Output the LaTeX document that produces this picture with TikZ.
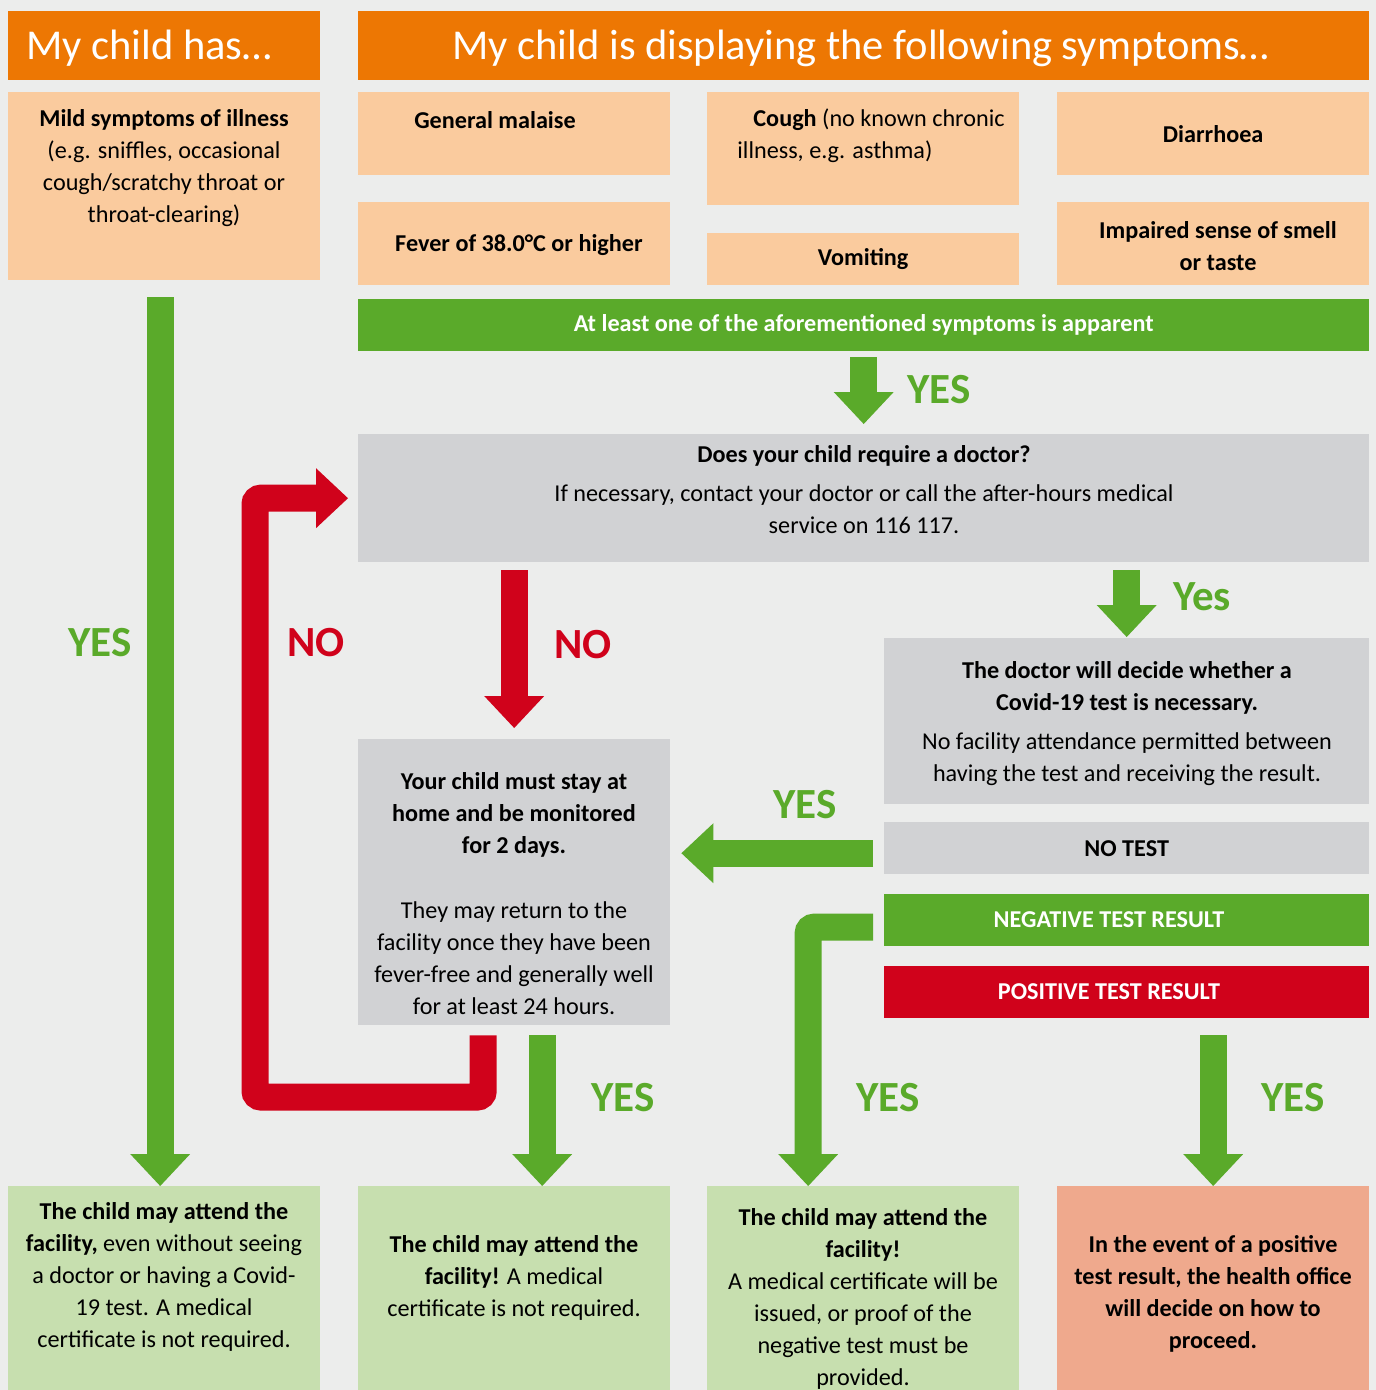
\documentclass[tikz,border=0pt]{standalone}
\usepackage{fontspec}
\setmainfont{Carlito}
\usetikzlibrary{arrows.meta, positioning}

\definecolor{bgcol}{RGB}{236,237,236}
\definecolor{headorange}{RGB}{237,119,3}
\definecolor{peach}{RGB}{250,203,158}
\definecolor{okgreen}{RGB}{90,170,42}
\definecolor{palegreen}{RGB}{199,223,175}
\definecolor{boxgray}{RGB}{209,210,212}
\definecolor{alertred}{RGB}{208,2,27}
\definecolor{salmon}{RGB}{239,169,141}

\newcommand{\bodyfont}{\fontsize{24.2}{32}\selectfont}

\begin{document}
\begin{tikzpicture}
        [x=1pt, y=-1pt,
        every node/.style={font=\bodyfont, align=center, inner sep=0pt},
        field/.style={anchor=north west, minimum width=#1},
        field/.default=312pt,
        header/.style={fill=headorange},
        headtext/.style={text=white, font=\fontsize{42.5}{48}\selectfont},
        symptom/.style={fill=peach},
        query/.style={fill=boxgray},
        outcome/.style={fill=palegreen},
        strong/.style={font=\bodyfont\bfseries},
        answer/.style={text=okgreen, font=\fontsize{43}{48}\selectfont\bfseries},
        denial/.style={text=alertred, font=\fontsize{43}{48}\selectfont\bfseries},
        yesarrow/.style={draw=okgreen, line width=27pt,
          -{Triangle[width=60pt,length=32pt,line width=0pt]}},
        noarrow/.style={draw=alertred, line width=27pt,
          -{Triangle[width=60pt,length=32pt,line width=0pt]}}]

    \useasboundingbox (0,0) rectangle (1376,1390);
    \fill[bgcol] (0,0) rectangle (1376,1390);

    % headers
    \node[field, header, minimum height=69pt] (hashead) at (8,11) {};
    \node[headtext, anchor=west] (hasheadtext) at (26,48) {My child has…};
    \node[field=1011pt, header, minimum height=69pt] (symhead) at (358,11) {};
    \node[headtext] (symheadtext) at (861,48) {My child is displaying the following symptoms…};

    % symptoms
    \node[field, symptom, minimum height=188pt] (mild) at (8,92) {};
    \node (mildtext) at (164,168) {\textbf{Mild symptoms of illness}\\(e.g. sniffles, occasional\\
      cough/scratchy throat or\\throat-clearing)};
    \node[field, symptom, minimum height=83pt] (malaise) at (358,92) {};
    \node[strong] (malaisetext) at (495,120) {General malaise};
    \node[field, symptom, minimum height=83pt] (fever) at (358,202) {};
    \node[strong] (fevertext) at (519,245) {Fever of 38.0°C or higher};
    \node[field, symptom, minimum height=113pt] (cough) at (707,92) {};
    \node[align=left] (coughtext) at (871,136) {\hspace*{16pt}\textbf{Cough} (no known chronic\\
      illness, e.g. asthma)};
    \node[field, symptom, strong, minimum height=52pt] (vomit) at (707,233) {Vomiting};
    \node[field, symptom, strong, minimum height=83pt] (diarr) at (1057,92) {Diarrhoea};
    \node[field, symptom, minimum height=83pt] (smell) at (1057,202) {};
    \node[strong] (smelltext) at (1218,246) {Impaired sense of smell\\or taste};

    \node[field=1011pt, fill=okgreen, text=white, strong, minimum height=52pt] (anyone) at (358,299)
      {At least one of the aforementioned symptoms is apparent};

    % decisions
    \node[field=1011pt, query, minimum height=128pt] (doctorq) at (358,434) {};
    \node (doctorqtext) at (864,490) {\textbf{Does your child require a doctor?}\\[7pt]
      If necessary, contact your doctor or call the after-hours medical\\service on 116 117.};
    \node[field=485pt, query, minimum height=166pt] (doctor) at (884,638) {};
    \node (doctortext) at (1127,724) {\textbf{The doctor will decide whether a}\\
      \textbf{Covid-19 test is necessary.}\\[7pt]
      No facility attendance permitted between\\having the test and receiving the result.};
    \node[field=485pt, query, strong, minimum height=52pt] (notest) at (884,822) {NO TEST};
    \node[field=485pt, fill=okgreen, minimum height=52pt] (negative) at (884,894) {};
    \node[strong, text=white] (negtext) at (1109,920) {NEGATIVE TEST RESULT};
    \node[field=485pt, fill=alertred, minimum height=52pt] (positive) at (884,966) {};
    \node[strong, text=white] (postext) at (1109,992) {POSITIVE TEST RESULT};
    \node[field, query, minimum height=286pt] (stay) at (358,739) {};
    \node (staytext) at (514,894) {\textbf{Your child must stay at}\\\textbf{home and be monitored}\\
      \textbf{for 2 days.}\\[33pt]They may return to the\\facility once they have been\\
      fever-free and generally well\\for at least 24 hours.};

    % outcomes
    \node[field, outcome, minimum height=204pt] (att1) at (8,1186) {};
    \node (att1text) at (164,1277) {\textbf{The child may attend the}\\\textbf{facility,} even without seeing\\
      a doctor or having a Covid-\\19 test. A medical\\certificate is not required.};
    \node[field, outcome, minimum height=204pt] (att2) at (358,1186) {};
    \node (att2text) at (514,1278) {\textbf{The child may attend the}\\\textbf{facility!} A medical\\
      certificate is not required.};
    \node[field, outcome, minimum height=204pt] (att3) at (707,1186) {};
    \node (att3text) at (863,1299) {\textbf{The child may attend the}\\\textbf{facility!}\\
      A medical certificate will be\\issued, or proof of the\\negative test must be\\provided.};
    \node[field, fill=salmon, minimum height=204pt] (office) at (1057,1186) {};
    \node[strong] (officetext) at (1213,1294) {In the event of a positive\\test result, the health office\\
      will decide on how to\\proceed.};

    % arrows
    \coordinate (notestmid) at ([yshift=-5pt]notest.west);
    \coordinate (negmid) at ([yshift=-7pt]negative.west);
    \coordinate (loopcorner) at (255,1097);

    \draw[yesarrow, shorten <=17pt] ([xshift=-4pt]mild.south) -- ([xshift=-4pt]att1.north);
    \draw[yesarrow, shorten <=6pt, shorten >=10pt] (anyone.south) -- (doctorq.north);
    \draw[noarrow, shorten <=8pt, shorten >=11pt] (stay.north |- doctorq.south) -- (stay.north);
    \draw[yesarrow, shorten <=8pt, shorten >=1pt] (doctor.north |- doctorq.south) -- (doctor.north);
    \draw[yesarrow, shorten <=11pt, shorten >=11pt] (notestmid) -- (notestmid -| stay.east);
    \draw[noarrow, rounded corners=6pt, shorten <=10pt, shorten >=10pt]
      ([xshift=-31pt]stay.south) |- (loopcorner) |- (doctorq.west);
    \draw[yesarrow, shorten <=10pt] ([xshift=28pt]stay.south) -- ([xshift=28pt]att2.north);
    \draw[yesarrow, rounded corners=6pt, shorten <=11pt] (negmid) -| ([xshift=-55pt]att3.north);
    \draw[yesarrow, shorten <=17pt] (office.north |- positive.south) -- (office.north);

    % labels
    \node[answer] (yesmild) at (100,643) {YES};
    \node[answer] (yesany) at (939,390) {YES};
    \node[answer] (yesdoc) at (1202,597) {Yes};
    \node[answer] (yesnotest) at (805,805) {YES};
    \node[answer] (yesstay) at (623,1098) {YES};
    \node[answer] (yesneg) at (888,1098) {YES};
    \node[answer] (yespos) at (1293,1098) {YES};
    \node[denial] (noloop) at (316,643) {NO};
    \node[denial] (nodoc) at (583,645) {NO};
\end{tikzpicture}
\end{document}
